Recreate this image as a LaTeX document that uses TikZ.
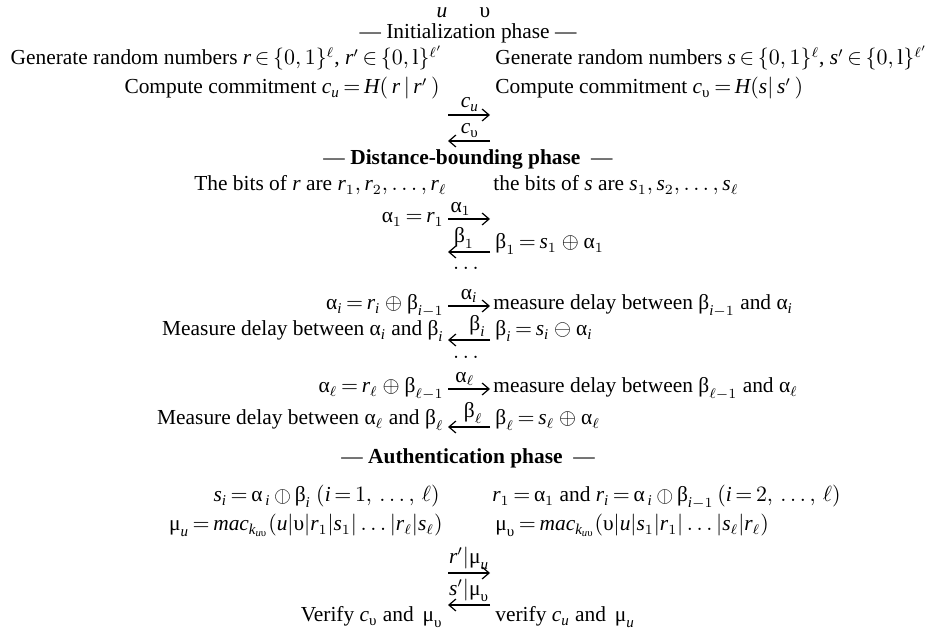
\documentclass[tikz,border=0pt]{standalone}
\usepackage{amsmath}
\usepackage{fontspec}
\setmainfont{Liberation Serif}
\usetikzlibrary{arrows.meta}
\newcommand\ga{\textup{α}}
\newcommand\gb{\textup{β}}
\newcommand\gm{\textup{μ}}
\newcommand\gu{\textup{υ}}
\newcommand\iv[1]{\textit{#1}}
\newcommand\odiv{\mathbin{\rotatebox[origin=c]{90}{$\ominus$}}}
\thickmuskip=3mu plus 2mu
\tikzset{
  txt/.style={inner sep=0pt, font=\fontsize{10.7}{13}\selectfont},
  lt/.style={txt, anchor=base east},
  rt/.style={txt, anchor=base west},
  ct/.style={txt, anchor=base},
  msg/.style={line width=0.6pt, -{Straight Barb[length=3.5pt,width=6pt]}},
  lab/.style={txt, above, inner sep=1.5pt},
}
\begin{document}
\begin{tikzpicture}[x=0.5pt,y=-0.5pt]
\useasboundingbox (0,0) rectangle (927,630);
% header
\node[ct] (hu) at (442,18) {\iv{u}};
\node[ct] (hv) at (485,18) {υ};
\node[ct] (hinit) at (468,39) {— Initialization phase —};
\node[lt] (gl) at (443,65) {Generate random numbers $\iv{r}\in\{0,1\}^{\ell}$, $\iv{r}'\in\{0,\text{l}\}^{\ell'}$};
\node[rt] (gr) at (495,65) {Generate random numbers $\iv{s}\in\{0,1\}^{\ell}$, $\iv{s}'\in\{0,\text{l}\}^{\ell'}$};
\node[lt] (cl) at (440,94) {Compute commitment $\iv{c}_{\iv{u}}=\iv{H}(\,\iv{r}\,|\,\iv{r}'\,)$};
\node[rt] (cr) at (495,94) {Compute commitment $\iv{c}_{\gu}=\iv{H}(\iv{s}|\,\iv{s}'\,)$};
\coordinate (cuL) at (448,115); \coordinate (cuR) at (490,115);
\draw[msg] (cuL) -- node[lab,pos=0.52] (lcu) {$\iv{c}_{\iv{u}}$} (cuR);
\coordinate (cvL) at (448,141); \coordinate (cvR) at (490,141);
\draw[msg] (cvR) -- node[lab,pos=0.48] (lcv) {$\iv{c}_{\gu}$} (cvL);
% distance bounding
\node[ct] (hdb) at (468,165) {— \textbf{Distance-bounding phase}\enspace—};
\node[lt] (bl) at (447,191) {The bits of \iv{r} are $\iv{r}_1, \iv{r}_2, \ldots, \iv{r}_{\ell}$};
\node[rt] (br) at (493,191) {the bits of \iv{s} are $\iv{s}_1, \iv{s}_2, \ldots, \iv{s}_{\ell}$};
\node[lt] (a1l) at (444,223) {$\ga_1=\iv{r}_1$};
\coordinate (a1L) at (448,219); \coordinate (a1R) at (490,219);
\draw[msg] (a1L) -- node[lab,pos=0.3] (la1) {$\ga_1$} (a1R);
\coordinate (b1L) at (448,252); \coordinate (b1R) at (490,252);
\draw[msg] (b1R) -- node[lab,pos=0.62] (lb1) {$\gb_1$} (b1L);
\node[rt] (b1r) at (495,249) {$\gb_1=\iv{s}_1\oplus\ga_1$};
\node[ct] (d1) at (466,270) {$\ldots$};
\node[lt] (ail) at (444,310) {$\ga_{\iv{i}}=\iv{r}_{\iv{i}}\oplus\gb_{\iv{i}-1}$};
\coordinate (aiL) at (448,306); \coordinate (aiR) at (490,306);
\draw[msg] (aiL) -- node[lab,pos=0.5] (lai) {$\ga_{\iv{i}}$} (aiR);
\node[rt] (air) at (493,310) {measure delay between $\gb_{\iv{i}-1}$ and $\ga_{\iv{i}}$};
\node[lt] (bil) at (444,336) {Measure delay between $\ga_{\iv{i}}$ and $\gb_{\iv{i}}$};
\coordinate (biL) at (448,340); \coordinate (biR) at (490,340);
\draw[msg] (biR) -- node[lab,pos=0.3] (lbi) {$\gb_{\iv{i}}$} (biL);
\node[rt] (bir) at (495,336) {$\gb_{\iv{i}}=\iv{s}_{\iv{i}}\ominus\ga_{\iv{i}}$};
\node[ct] (d2) at (466,359) {$\ldots$};
\node[lt] (all) at (444,393) {$\ga_{\ell}=\iv{r}_{\ell}\oplus\gb_{\ell-1}$};
\coordinate (alL) at (448,389); \coordinate (alR) at (490,389);
\draw[msg] (alL) -- node[lab,pos=0.4] (lal) {$\ga_{\ell}$} (alR);
\node[rt] (alr) at (493,393) {measure delay between $\gb_{\ell-1}$ and $\ga_{\ell}$};
\node[lt] (bll) at (444,425) {Measure delay between $\ga_{\ell}$ and $\gb_{\ell}$};
\coordinate (blL) at (448,427); \coordinate (blR) at (490,427);
\draw[msg] (blR) -- node[lab,pos=0.4] (lbl) {$\gb_{\ell}$} (blL);
\node[rt] (blr) at (495,425) {$\gb_{\ell}=\iv{s}_{\ell}\oplus\ga_{\ell}$};
% authentication
\node[ct] (hau) at (468,464) {— \textbf{Authentication phase}\enspace—};
\node[lt] (sil) at (440,502) {$\iv{s}_{\iv{i}}=\ga_{\,\iv{i}}\odiv\gb_{\iv{i}}$ $(\iv{i}=1,\,\ldots,\,\ell)$};
\node[rt] (rir) at (492,502) {$\iv{r}_1=\ga_1$ and $\iv{r}_{\iv{i}}=\ga_{\,\iv{i}}\odiv\gb_{\iv{i}-1}\,(\iv{i}=2,\,\ldots,\,\ell)$};
\node[lt] (mul) at (443,531) {$\gm_{\iv{u}}=\iv{mac}_{\iv{k}_{\iv{u}\gu}}(\iv{u}|\gu|\iv{r}_1|\iv{s}_1|\ldots|\iv{r}_{\ell}|\iv{s}_{\ell})$};
\node[rt] (mur) at (495,531) {$\gm_{\gu}=\iv{mac}_{\iv{k}_{\iv{u}\gu}}(\gu|\iv{u}|\iv{s}_1|\iv{r}_1|\ldots|\iv{s}_{\ell}|\iv{r}_{\ell})$};
\coordinate (m1L) at (448,573); \coordinate (m1R) at (490,573);
\draw[msg] (m1L) -- node[lab] (lm1) {$\iv{r}'|\gm_{\iv{u}}$} (m1R);
\coordinate (m2L) at (448,605); \coordinate (m2R) at (490,605);
\draw[msg] (m2R) -- node[lab] (lm2) {$\iv{s}'|\gm_{\gu}$} (m2L);
\node[lt] (vl) at (443,622) {Verify $\iv{c}_{\gu}$ and\, $\gm_{\gu}$};
\node[rt] (vr) at (495,622) {verify $\iv{c}_{\iv{u}}$ and\, $\gm_{\iv{u}}$};
\end{tikzpicture}
\end{document}
